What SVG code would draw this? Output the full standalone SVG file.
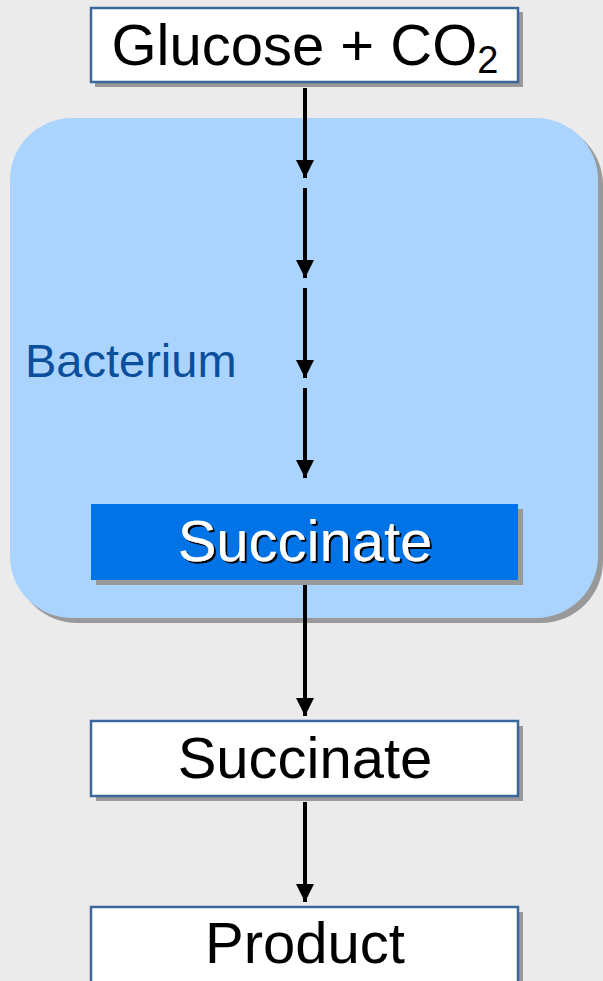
<svg xmlns="http://www.w3.org/2000/svg" width="603" height="981" viewBox="0 0 603 981">
<defs>
<style>
.shadow{fill:#999999}
.box{fill:#ffffff;stroke:#3a679c;stroke-width:2.5}
.lbl{font-family:"Liberation Sans",Arial,sans-serif;font-size:58px;text-anchor:middle;fill:#000}
.conn{stroke:#000;stroke-width:4;fill:none}
</style>
<filter id="ts" x="-10%" y="-20%" width="120%" height="140%">
<feDropShadow dx="2" dy="2" stdDeviation="0" flood-color="#000" flood-opacity="1"/>
</filter>
<marker id="ah" markerUnits="userSpaceOnUse" markerWidth="18" markerHeight="18" viewBox="0 0 16 16" refX="16" refY="8" orient="auto">
<path d="M0,0 L16,8 L0,16 Z" fill="#000"/>
</marker>
</defs>
<rect width="603" height="981" fill="#ebebeb"/>
<g id="bacterium">
<rect x="15" y="123" width="588" height="500" rx="62" class="shadow"/>
<rect x="10" y="118" width="588" height="500" rx="62" fill="#aad4fe"/>
<text x="25" y="377" font-family="Liberation Sans,Arial,sans-serif" font-size="47" fill="#0b4f9c">Bacterium</text>
</g>
<g id="glucose">
<rect x="95" y="12" width="428" height="75" class="shadow"/>
<rect x="91" y="8" width="427" height="74" class="box"/>
<text x="305" y="65" class="lbl">Glucose + CO<tspan font-size="38" dy="8">2</tspan></text>
</g>
<g id="succinate-in">
<rect x="96" y="509" width="427" height="76" class="shadow"/>
<rect x="91" y="504" width="427" height="76" fill="#0073e6"/>
<text x="305" y="561" class="lbl" style="fill:#fff" filter="url(#ts)">Succinate</text>
</g>
<g id="succinate-out">
<rect x="96" y="726" width="427" height="75" class="shadow"/>
<rect x="91" y="721" width="427" height="75" class="box"/>
<text x="305" y="778" class="lbl">Succinate</text>
</g>
<g id="product">
<rect x="96" y="912" width="427" height="80" class="shadow"/>
<rect x="91" y="907" width="427" height="80" class="box"/>
<text x="305" y="963" class="lbl">Product</text>
</g>
<g id="connectors">
<line x1="305" y1="88" x2="305" y2="178" class="conn" marker-end="url(#ah)"/>
<line x1="305" y1="188" x2="305" y2="278" class="conn" marker-end="url(#ah)"/>
<line x1="305" y1="288" x2="305" y2="378" class="conn" marker-end="url(#ah)"/>
<line x1="305" y1="388" x2="305" y2="478" class="conn" marker-end="url(#ah)"/>
<line x1="305" y1="585" x2="305" y2="716" class="conn" marker-end="url(#ah)"/>
<line x1="305" y1="802" x2="305" y2="902" class="conn" marker-end="url(#ah)"/>
</g>
</svg>
